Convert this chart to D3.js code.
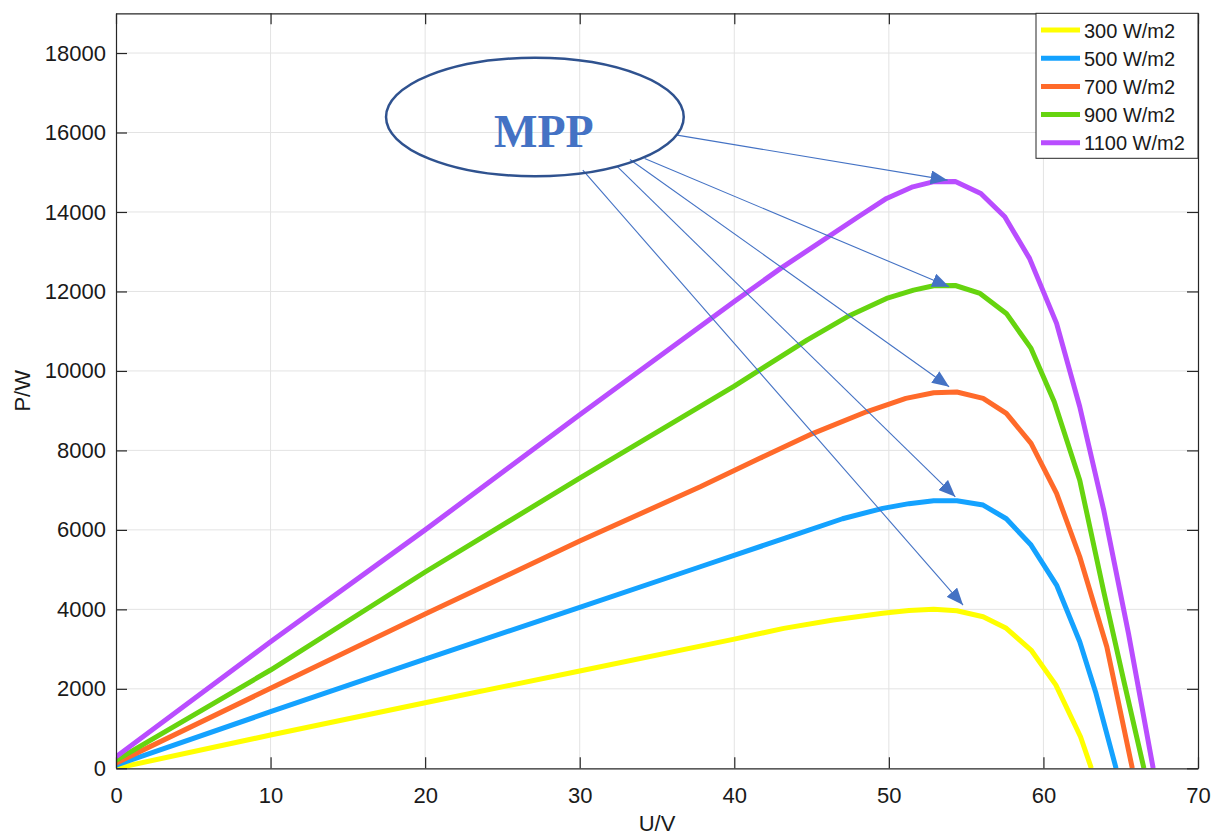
<!DOCTYPE html>
<html>
<head>
<meta charset="utf-8">
<script src="https://cdn.jsdelivr.net/npm/d3@7"></script>
<style>
  html, body { margin: 0; padding: 0; background: #ffffff; }
  svg { display: block; }
  text { font-family: "Liberation Sans", Arial, Helvetica, sans-serif; }
</style>
</head>
<body>
<svg id="chart" width="1212" height="836"></svg>
<script>
// ---------------- data ----------------
const seriesNames = ["300 W/m2", "500 W/m2", "700 W/m2", "900 W/m2", "1100 W/m2"];
const seriesColors = ["#ffff00", "#14a2ff", "#ff6a2a", "#66d40f", "#b94dff"];

// [U (V), P (W)]
const curve300 = [[0,0],[10,838],[20,1650],[30,2450],[40,3250],[43.2,3522],[46.4,3730],[49.6,3900],[51.3,3970],[52.9,4000],[54.4,3965],[56.1,3814],[57.6,3522],[59.2,2976],[60.8,2100],[62.4,795],[63.1,0]];
const curve500 = [[0,80],[10,1424],[20,2750],[30,4050],[37.8,5072],[44.2,5912],[47,6280],[49.6,6542],[51.3,6660],[52.9,6733],[54.4,6733],[56.1,6625],[57.6,6280],[59.2,5618],[60.85,4612],[62.35,3185],[63.4,1887],[64.7,0]];
const curve700 = [[0,130],[10,2013],[20,3880],[30,5720],[37.8,7085],[41.65,7800],[45.1,8429],[48.55,8972],[51.1,9309],[52.9,9450],[54.4,9470],[56.1,9309],[57.6,8932],[59.2,8177],[60.85,6919],[62.35,5324],[64.1,3059],[65.75,0]];
const curve900 = [[0,200],[10,2473],[20,4940],[30,7300],[40,9620],[44.7,10776],[47.3,11362],[49.85,11825],[51.6,12034],[52.9,12142],[54.3,12150],[55.9,11951],[57.6,11448],[59.2,10567],[60.7,9224],[62.35,7250],[63.9,4450],[65.2,2200],[66.5,0]];
const curve1100 = [[0,290],[10,3185],[20,6000],[30,8900],[40,11750],[43,12580],[48.1,13900],[49.85,14341],[51.55,14633],[52.85,14758],[54.3,14770],[55.95,14467],[57.5,13878],[59.1,12832],[60.85,11196],[62.35,9098],[63.9,6500],[65.5,3400],[67.1,0]];
const curves = [curve300, curve500, curve700, curve900, curve1100];

const xTicks = [0, 10, 20, 30, 40, 50, 60, 70];
const yTicks = [0, 2000, 4000, 6000, 8000, 10000, 12000, 14000, 16000, 18000];
const xDomain = [0, 70];
const yDomain = [0, 19000];

// annotation (data coordinates)
const mppLabel = "MPP";
const mppCenter = [27.1, 16390];
const mppRadius = [9.63, 1490];
const arrowStarts = [[36.3,15935],[34.2,15348],[33.25,15322],[32.4,15154],[30.2,15053]];
const arrowTips = [[53.8,14801],[53.9,12117],[53.9,9601],[54.3,6833],[54.8,4109]];

// ---------------- layout ----------------
const W = 1212, H = 836;
const mLeft = 116, mRight = 1198, mTop = 13.3, mBottom = 768.3;

const svg = d3.select("#chart");
svg.append("rect").attr("width", W).attr("height", H).attr("fill", "#fff");

const x = d3.scaleLinear().domain(xDomain).range([mLeft, mRight]);
const y = d3.scaleLinear().domain(yDomain).range([mBottom, mTop]);

// grid
const grid = svg.append("g");
grid.selectAll(".vg").data(xTicks.filter(t => t > 0 && t < 70)).enter().append("line")
  .attr("x1", d => x(d)).attr("x2", d => x(d)).attr("y1", mTop).attr("y2", mBottom)
  .attr("stroke", "#e3e3e3").attr("stroke-width", 1);
grid.selectAll(".hg").data(yTicks.filter(t => t > 0)).enter().append("line")
  .attr("x1", mLeft).attr("x2", mRight).attr("y1", d => y(d)).attr("y2", d => y(d))
  .attr("stroke", "#e3e3e3").attr("stroke-width", 1);

// curves
const line = d3.line().x(d => x(d[0])).y(d => y(d[1]));
const clipId = "plotclip";
svg.append("clipPath").attr("id", clipId).append("rect")
  .attr("x", mLeft).attr("y", mTop).attr("width", mRight - mLeft).attr("height", mBottom - mTop);
svg.append("g").attr("clip-path", `url(#${clipId})`)
  .selectAll("path").data(curves).enter().append("path")
  .attr("d", d => line(d))
  .attr("fill", "none")
  .attr("stroke", (d, i) => seriesColors[i])
  .attr("stroke-width", 5)
  .attr("stroke-linejoin", "round")
  .attr("stroke-linecap", "butt");

// axes
const axisColor = "#262626";
const tickLen = 11;
const bottomAxis = d3.axisBottom(x).tickValues(xTicks).tickSizeInner(-tickLen).tickSizeOuter(0).tickPadding(19).tickFormat(d3.format("d"));
const leftAxis = d3.axisLeft(y).tickValues(yTicks).tickSizeInner(-tickLen).tickSizeOuter(0).tickPadding(10).tickFormat(d3.format("d"));
const topAxis = d3.axisTop(x).tickValues(xTicks).tickSizeInner(-tickLen).tickSizeOuter(0).tickFormat("");
const rightAxis = d3.axisRight(y).tickValues(yTicks).tickSizeInner(-tickLen).tickSizeOuter(0).tickFormat("");

function styleAxis(g) {
  g.select(".domain").attr("stroke", axisColor).attr("stroke-width", 1.2);
  g.selectAll(".tick line").attr("stroke", axisColor).attr("stroke-width", 1.2);
  g.selectAll(".tick text").attr("fill", "#1a1a1a").style("font-size", "22px")
    .style("font-family", "'Liberation Sans', Arial, sans-serif");
}
svg.append("g").attr("transform", `translate(0,${mBottom})`).call(bottomAxis).call(styleAxis);
svg.append("g").attr("transform", `translate(${mLeft},0)`).call(leftAxis).call(styleAxis);
svg.append("g").attr("transform", `translate(0,${mTop})`).call(topAxis).call(styleAxis);
svg.append("g").attr("transform", `translate(${mRight},0)`).call(rightAxis).call(styleAxis);

// axis labels
svg.append("text").attr("x", (mLeft + mRight) / 2).attr("y", 831)
  .attr("text-anchor", "middle").style("font-size", "22px").attr("fill", "#1a1a1a").text("U/V");
svg.append("text").attr("transform", `translate(30,${(mTop + mBottom) / 2}) rotate(-90)`)
  .attr("text-anchor", "middle").style("font-size", "22px").attr("fill", "#1a1a1a").text("P/W");

// annotation: arrows
const defs = svg.append("defs");
defs.append("marker").attr("id", "arrowhead")
  .attr("viewBox", "0 0 17 14").attr("refX", 17).attr("refY", 7)
  .attr("markerWidth", 17).attr("markerHeight", 14).attr("markerUnits", "userSpaceOnUse")
  .attr("orient", "auto")
  .append("path").attr("d", "M0,0 L17,7 L0,14 Z").attr("fill", "#4472c4");

svg.append("g").selectAll("line").data(arrowStarts).enter().append("line")
  .attr("x1", d => x(d[0])).attr("y1", d => y(d[1]))
  .attr("x2", (d, i) => x(arrowTips[i][0])).attr("y2", (d, i) => y(arrowTips[i][1]))
  .attr("stroke", "#4472c4").attr("stroke-width", 1.1)
  .attr("marker-end", "url(#arrowhead)");

// annotation: ellipse + label
svg.append("ellipse")
  .attr("cx", x(mppCenter[0])).attr("cy", y(mppCenter[1]))
  .attr("rx", x(mppCenter[0] + mppRadius[0]) - x(mppCenter[0]))
  .attr("ry", y(mppCenter[1]) - y(mppCenter[1] + mppRadius[1]))
  .attr("fill", "none").attr("stroke", "#2f528f").attr("stroke-width", 2.5);
svg.append("text")
  .attr("x", x(mppCenter[0]) + 9).attr("y", y(mppCenter[1]) + 30)
  .attr("text-anchor", "middle")
  .style("font-family", "'Liberation Serif', 'Times New Roman', serif")
  .style("font-weight", "bold").style("font-size", "46px")
  .attr("fill", "#4472c4").text(mppLabel);

// legend
const lg = svg.append("g");
lg.append("rect").attr("x", 1036).attr("y", mTop).attr("width", 162).attr("height", 145)
  .attr("fill", "#fff").attr("stroke", axisColor).attr("stroke-width", 1);
const items = lg.selectAll("g.item").data(seriesNames).enter().append("g")
  .attr("transform", (d, i) => `translate(1041,${30 + i * 28.2})`);
items.append("line").attr("x1", 0).attr("x2", 39).attr("y1", 0).attr("y2", 0)
  .attr("stroke", (d, i) => seriesColors[i]).attr("stroke-width", 5);
items.append("text").attr("x", 43).attr("y", 7.5).style("font-size", "20px")
  .attr("fill", "#1a1a1a").text(d => d);
</script>
</body>
</html>
